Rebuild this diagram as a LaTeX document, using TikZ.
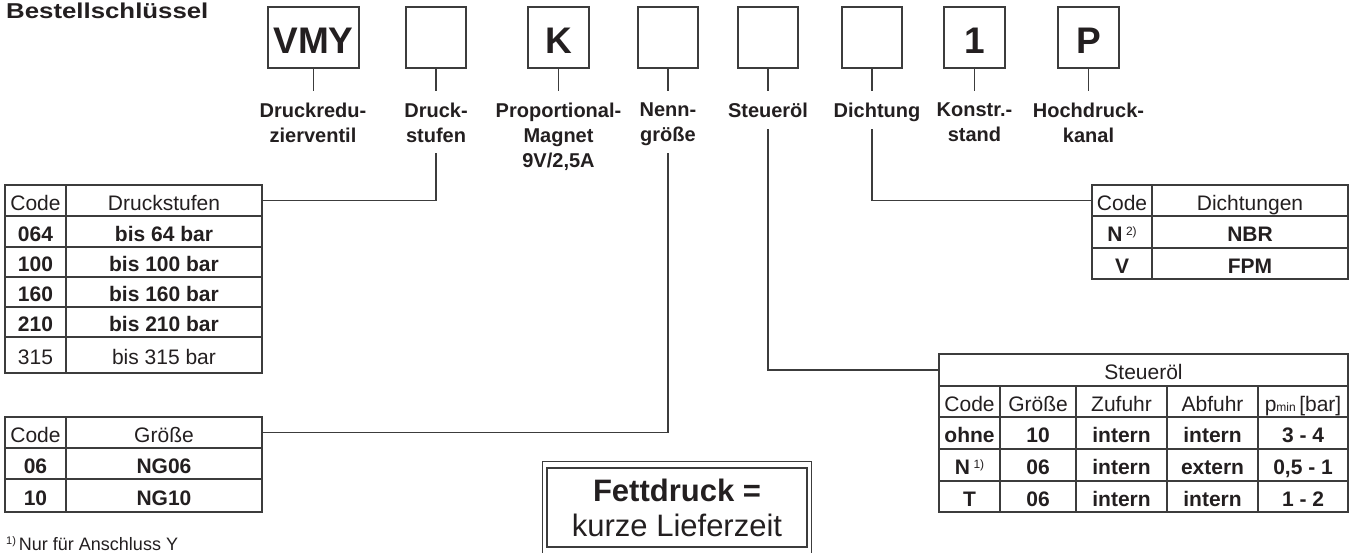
\documentclass[tikz,border=0pt]{standalone}
\usepackage{fontspec}
\setmainfont{Liberation Sans}
\newfontfamily\titlefont[FakeStretch=1.2]{Liberation Sans}
\definecolor{ink}{HTML}{231F20}
\definecolor{rulec}{HTML}{3C3C3C}
\newcommand\tcell[7][]{\node[tcell,#1,minimum width={#5-#3},minimum height={#6-#4}] (#2) at ({(#3+#5)/2},{(#4+#6)/2}) {#7};}
\newcommand\supsmall[1]{\,\raisebox{6pt}{\fontsize{12}{12}\selectfont\mdseries #1}}
\begin{document}
\begin{tikzpicture}[x=1pt,y=-1pt,
  tcell/.style={draw=rulec, line width=1.1pt, inner sep=0pt, text height=19pt, text depth=0pt,
    font=\fontsize{21}{21}\selectfont, text=ink},
  bcell/.style={font=\fontsize{21}{21}\selectfont\bfseries},
  codebox/.style={draw=rulec, line width=1.4pt, inner sep=0pt, minimum width=60pt, minimum height=61pt,
    text height=32pt, text depth=0pt, font=\fontsize{37}{37}\selectfont\bfseries, text=ink},
  lab/.style={anchor=north, inner sep=0pt, align=center, font=\fontsize{20}{25}\selectfont\bfseries, text=ink},
  lead/.style={draw=rulec, line width=1.1pt},
  tick/.style={draw=rulec, line width=1.1pt, shorten >=12pt}]
\useasboundingbox (0,0) rectangle (1351,552);
\clip (0,0) rectangle (1351,552);

\node[anchor=base west, inner sep=0pt, font=\titlefont\fontsize{21.5}{21.5}\selectfont\bfseries, text=ink] (title) at (6,18) {Bestellschlüssel};

% code boxes
\node[codebox, minimum width=91pt] (b1) at (313.5,37.5) {VMY};
\node[codebox] (b2) at (436,37.5) {};
\node[codebox, minimum width=61pt] (b3) at (558.5,37.5) {K};
\node[codebox] (b4) at (668,37.5) {};
\node[codebox] (b5) at (768,37.5) {};
\node[codebox] (b6) at (872,37.5) {};
\node[codebox, minimum width=61pt] (b7) at (974.5,37.5) {1};
\node[codebox, minimum width=61pt] (b8) at (1088.5,37.5) {P};

% labels
\node[lab] (l1) at (313,103) {Druckredu-\\zierventil};
\node[lab] (l2) at (436,103) {Druck-\\stufen};
\node[lab] (l3) at (558.5,103) {Proportional-\\Magnet\\9V/2,5A};
\node[lab] (l4) at (668,103) {Nenn-\\größe};
\node[lab] (l5) at (768,103) {Steueröl};
\node[lab] (l6) at (877,103) {Dichtung};
\node[lab] (l7) at (974.5,103) {Konstr.-\\stand};
\node[lab] (l8) at (1088.5,103) {Hochdruck-\\kanal};

\draw[tick] (b1.south) -- (b1.south |- l1.north);
\draw[tick] (b2.south) -- (b2.south |- l2.north);
\draw[tick] (b3.south) -- (b3.south |- l3.north);
\draw[tick] (b4.south) -- (b4.south |- l4.north);
\draw[tick] (b5.south) -- (b5.south |- l5.north);
\draw[tick] (b6.south) -- (b6.south |- l6.north);
\draw[tick] (b7.south) -- (b7.south |- l7.north);
\draw[tick] (b8.south) -- (b8.south |- l8.north);

% Druckstufen table
\tcell{dsH1}{5}{185}{66}{216}{Code}
\tcell{dsH2}{66}{185}{262}{216}{Druckstufen}
\tcell[bcell]{ds11}{5}{216}{66}{247}{064}
\tcell[bcell]{ds12}{66}{216}{262}{247}{bis 64 bar}
\tcell[bcell]{ds21}{5}{247}{66}{277}{100}
\tcell[bcell]{ds22}{66}{247}{262}{277}{bis 100 bar}
\tcell[bcell]{ds31}{5}{277}{66}{307}{160}
\tcell[bcell]{ds32}{66}{277}{262}{307}{bis 160 bar}
\tcell[bcell]{ds41}{5}{307}{66}{337}{210}
\tcell[bcell]{ds42}{66}{307}{262}{337}{bis 210 bar}
\tcell{ds51}{5}{337}{66}{373}{315}
\tcell{ds52}{66}{337}{262}{373}{bis 315 bar}

% Size table
\tcell{szH1}{5}{417}{66}{448}{Code}
\tcell{szH2}{66}{417}{262}{448}{Größe}
\tcell[bcell]{sz11}{5}{448}{66}{479}{06}
\tcell[bcell]{sz12}{66}{448}{262}{479}{NG06}
\tcell[bcell]{sz21}{5}{479}{66}{512}{10}
\tcell[bcell]{sz22}{66}{479}{262}{512}{NG10}

% Dichtungen table
\tcell{diH1}{1092}{185}{1152}{216}{Code}
\tcell{diH2}{1152}{185}{1348}{216}{Dichtungen}
\tcell[bcell]{di11}{1092}{216}{1152}{248}{N\supsmall{2)}}
\tcell[bcell]{di12}{1152}{216}{1348}{248}{NBR}
\tcell[bcell]{di21}{1092}{248}{1152}{279}{V}
\tcell[bcell]{di22}{1152}{248}{1348}{279}{FPM}

% Steueroel table
\tcell{stT}{939}{354}{1348}{386}{Steueröl}
\tcell{stH1}{939}{386}{1000}{417}{Code}
\tcell{stH2}{1000}{386}{1076}{417}{Größe}
\tcell{stH3}{1076}{386}{1167}{417}{Zufuhr}
\tcell{stH4}{1167}{386}{1258}{417}{Abfuhr}
\tcell{stH5}{1258}{386}{1348}{417}{p{\fontsize{12}{12}\selectfont min}\,[bar]}
\tcell[bcell]{st11}{939}{417}{1000}{449}{ohne}
\tcell[bcell]{st12}{1000}{417}{1076}{449}{10}
\tcell[bcell]{st13}{1076}{417}{1167}{449}{intern}
\tcell[bcell]{st14}{1167}{417}{1258}{449}{intern}
\tcell[bcell]{st15}{1258}{417}{1348}{449}{3 - 4}
\tcell[bcell]{st21}{939}{449}{1000}{481}{N\supsmall{1)}}
\tcell[bcell]{st22}{1000}{449}{1076}{481}{06}
\tcell[bcell]{st23}{1076}{449}{1167}{481}{intern}
\tcell[bcell]{st24}{1167}{449}{1258}{481}{extern}
\tcell[bcell]{st25}{1258}{449}{1348}{481}{0,5 - 1}
\tcell[bcell]{st31}{939}{481}{1000}{512}{T}
\tcell[bcell]{st32}{1000}{481}{1076}{512}{06}
\tcell[bcell]{st33}{1076}{481}{1167}{512}{intern}
\tcell[bcell]{st34}{1167}{481}{1258}{512}{intern}
\tcell[bcell]{st35}{1258}{481}{1348}{512}{1 - 2}

% leaders
\coordinate (j2) at (436,153);
\coordinate (j4) at (668,153);
\coordinate (j5) at (768,129);
\coordinate (j6) at (872,129);
\draw[lead] (j2) |- (dsH2.east);
\draw[lead] (j4) |- (szH2.east);
\draw[lead] (j5) |- (stT.west);
\draw[lead] (j6) |- (diH1.west);

% Fettdruck box
\node[draw=rulec, line width=1.1pt, minimum width=260pt, minimum height=79pt, inner sep=0pt, align=center,
  font=\fontsize{31}{35}\selectfont, text=ink] (fett) at (677,507.5)
  {{\bfseries Fettdruck =}\\kurze Lieferzeit};
\draw[draw=rulec, line width=1.1pt] ([xshift=-4pt,yshift=6pt]fett.north west) rectangle ([xshift=4pt,yshift=-10pt]fett.south east);

% footnote
\node[anchor=base west, inner sep=0pt, font=\fontsize{18}{18}\selectfont, text=ink] (fn) at (6,550)
  {\raisebox{6pt}{\fontsize{11}{11}\selectfont 1)}\,Nur für Anschluss Y};
\end{tikzpicture}
\end{document}
